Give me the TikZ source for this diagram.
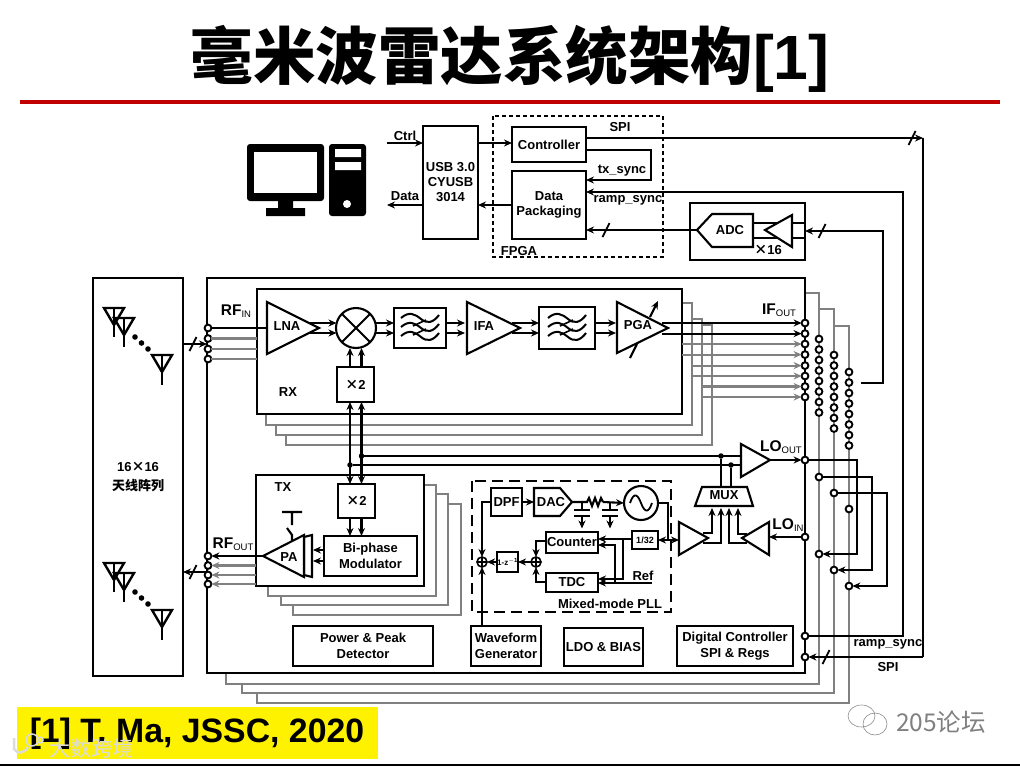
\documentclass[tikz,border=0pt]{standalone}
\usepackage{fontspec}
\setmainfont{Liberation Sans}
\newfontfamily\cjk{Noto Sans CJK SC}
\usetikzlibrary{arrows.meta}
\definecolor{ruleRed}{HTML}{C00000}
\definecolor{shadowGray}{HTML}{808080}
\newcommand{\mybox}[7][]{%
  \pgfmathsetmacro\bxw{#5-#3}\pgfmathsetmacro\bxh{#6-#4}%
  \pgfmathsetmacro\bxcx{(#3+#5)/2}\pgfmathsetmacro\bxcy{(#4+#6)/2}%
  \node[boxn,minimum width=\bxw pt,minimum height=\bxh pt,#1] (#2) at (\bxcx,\bxcy) {#7};}
\newcommand{\mytick}[2]{\pgfmathsetmacro\tax{#1-3.5}\pgfmathsetmacro\tbx{#1+3.5}%
  \pgfmathsetmacro\tay{#2+7}\pgfmathsetmacro\tby{#2-7}\draw[line width=1.8pt] (\tax,\tay)--(\tbx,\tby);}
\newcommand{\subtxt}[2]{#1\raisebox{-2.5pt}{\fontsize{9.5}{9.5}\selectfont\mdseries #2}}
\tikzset{
  x=1pt,y=-1pt,
  every path/.style={line width=2.1pt,line join=miter},
  boxn/.style={draw,fill=white,inner sep=0pt,outer sep=0pt,align=center,
    font=\fontsize{13}{15.5}\selectfont\bfseries},
  txt/.style={inner sep=0pt,outer sep=0pt,align=center,font=\fontsize{13}{15.5}\selectfont\bfseries},
  subl/.style={inner sep=0pt,outer sep=0pt,font=\fontsize{15.5}{17}\selectfont\bfseries},
  arw/.style={-{Stealth[length=8pt,width=7pt]}},
  arwb/.style={{Stealth[length=8pt,width=7pt]}-{Stealth[length=8pt,width=7pt]}},
  gline/.style={draw=shadowGray},
  pin/.style={circle,draw,fill=white,line width=1.9pt,minimum size=6.8pt,inner sep=0pt,outer sep=0pt},
  jn/.style={circle,fill=black,minimum size=5.5pt,inner sep=0pt,outer sep=0pt},
  sumn/.style={circle,draw,fill=white,line width=1.6pt,minimum size=10pt,inner sep=0pt,outer sep=0pt,
    path picture={\draw[line width=1.2pt] (path picture bounding box.north)--(path picture bounding box.south)
      (path picture bounding box.west)--(path picture bounding box.east);}},
  dashA/.style={dash pattern=on 4pt off 3pt},
  dashB/.style={dash pattern=on 11pt off 6pt},
  pics/filterwaves/.style={code={
    \foreach \d in {-9,0,9}{
      \draw[line width=2pt] (-19,\d-1) .. controls (-11,\d-8) and (-5,\d-5) .. (1,\d) .. controls (7,\d+5) and (13,\d+4) .. (19,\d-4);}
    \draw[line width=1.6pt] (-7,-2)--(6,-8) (-7,7)--(6,1);
  }},
  pics/antenna/.style={code={
    \draw[line width=2.4pt] (-10,0)--(10,0)--(0,17)--cycle;
    \draw[line width=2.8pt] (0,0)--(0,#1);
  }},
  pics/antgroup/.style={code={
    \pic at (-24,-47) {antenna=29};
    \pic at (-14,-37) {antenna=29};
    \fill (-3,-18) circle (2.8) (3.5,-12) circle (2.8) (10,-6) circle (2.8);
    \pic at (24,0) {antenna=30};
  }},
}
\begin{document}
\begin{tikzpicture}
\useasboundingbox (0,0) rectangle (1020,766);
% title
\node[inner sep=0pt,font=\fontsize{62.5}{66}\selectfont\bfseries] (title) at (510,59) {{\cjk 毫米波雷达系统架构}[1]};
\draw[ruleRed,line width=4.5pt] (20,102) -- (1000,102);
\draw[line width=1.5pt] (0,765.2) -- (1020,765.2);
% computer icon
\fill[rounded corners=3pt] (247,144) rectangle (324,201);
\fill[white] (254,152) rectangle (317,193);
\fill (278,201) rectangle (293,209) (266,208) rectangle (305,216);
\fill[rounded corners=3pt] (329,144) rectangle (366,216);
\fill[white] (335,149) rectangle (361,157) (335,162) rectangle (361,170);
\fill[white] (347,204) circle (4);
% shadows of the main block
\coordinate (ms1) at (819,293);\coordinate (ms2) at (834,309);\coordinate (ms3) at (849,326);
\draw[gline] (805,293) -- (ms1) -- (819,684) -- (226,684) -- (226,673);
\draw[gline] (819,309) -- (ms2) -- (834,693) -- (242,693) -- (242,684);
\draw[gline] (834,326) -- (ms3) -- (849,703) -- (257,703) -- (257,693);
\mybox{main}{207}{278}{805}{673}{}
% upper chain
\mybox{usb}{423}{126}{478}{239}{USB 3.0\\[-.5pt]CYUSB\\[-.5pt]3014}
\draw[dashA] (493,116) rectangle (663,257);
\mybox{ctrl}{512}{127}{586}{162}{Controller}
\mybox{pack}{512}{171}{586}{239}{Data\\Packaging}
\node[txt] (tctrl) at (405,136) {Ctrl};
\node[txt] (tdata) at (405,196) {Data};
\node[txt] (tspi) at (620,127) {SPI};
\node[txt] (ttx) at (622,171) {tx\_sync};
\node[txt] (tramp) at (628,200) {ramp\_sync};
\node[txt] (tfpga) at (519,251) {FPGA};
\coordinate (ctrlIn) at (387,143);\coordinate (dataOut) at (387,205);
\draw[arw] (ctrlIn) -- (usb.west |- ctrlIn);
\draw[arw] (usb.west |- dataOut) -- (dataOut);
\draw[arw] (usb.east |- ctrlIn) -- (ctrl.west |- ctrlIn);
\draw[arw] (pack.west |- dataOut) -- (usb.east |- dataOut);
\coordinate (txc) at (651,150);
\draw[arw] (ctrl.east |- txc) -- (txc) -- (651,180) -- (pack.east |- 0,180);
% ADC group
\mybox{adcg}{690}{203}{805}{260}{}
\draw (697,230) -- (712,214) -- (753,214) -- (753,247) -- (712,247) -- cycle;
\coordinate (adcTip) at (697,230);
\node[txt] (tadc) at (730,230) {ADC};
\draw (753,223) -- (780,223) (753,238) -- (780,238);
\draw[fill=white] (765,230) -- (792,215) -- (792,247) -- cycle;
\draw (792,223) -- (805,223) (792,238) -- (805,238);
\node[txt] (tx16) at (768,250) {{\cjk ×}16};
\draw[arw] (adcTip) -- (pack.east |- adcTip);
\mytick{606}{230}
% RX shadows
\coordinate (rs1) at (692,303);\coordinate (rs2) at (702,319);\coordinate (rs3) at (712,325);
\draw[gline] (682,303) -- (rs1) -- (692,425) -- (266,425) -- (266,414);
\draw[gline] (692,319) -- (rs2) -- (702,435) -- (276,435) -- (276,425);
\draw[gline] (702,325) -- (rs3) -- (712,445) -- (286,445) -- (286,435);
\mybox{rx}{257}{289}{682}{414}{}
\node[txt] (trx) at (288,392) {RX};
% TX shadows
\draw[gline] (424,485) -- (436,485) -- (436,596) -- (268,596) -- (268,586);
\draw[gline] (436,494) -- (448,494) -- (448,605) -- (281,605) -- (281,596);
\draw[gline] (448,504) -- (461,504) -- (461,615) -- (293,615) -- (293,605);
\mybox{tx}{256}{475}{424}{586}{}
\node[txt] (ttxl) at (283,487) {TX};
% pins
\foreach \i/\y in {1/323,2/333.6,3/344,4/354.6,5/365.6,6/376,7/386.5,8/397}
  {\node[pin] (if\i) at (805,\y) {};}
\foreach \i/\y in {1/328,2/338.5,3/349,4/359}
  {\node[pin] (rfi\i) at (208,\y) {};}
\foreach \i/\y in {1/556,2/565.5,3/575,4/584}
  {\node[pin] (rfo\i) at (208,\y) {};}
\foreach \i in {0,...,7}{
  \pgfmathsetmacro\ya{339+10.5*\i}\pgfmathsetmacro\yb{355+10.5*\i}\pgfmathsetmacro\yc{372+10.5*\i}
  \node[pin] (ca\i) at (819,\ya) {};
  \node[pin] (cb\i) at (834,\yb) {};
  \node[pin] (cc\i) at (849,\yc) {};}
\node[pin] (lo2a) at (819,477) {};
\node[pin] (lo3a) at (834,493) {};
\node[pin] (lo4a) at (849,509) {};
\node[pin] (lo1b) at (819,554) {};
\node[pin] (lo2b) at (834,570) {};
\node[pin] (lo3b) at (849,586) {};
\node[pin] (loOut) at (805,460) {};
\node[pin] (loIn) at (805,537) {};
\node[pin] (pinRamp) at (805,636) {};
\node[pin] (pinSpi) at (805,657) {};
% IF outputs
\coordinate (pgaA) at (662,323);\coordinate (pgaB) at (662,333.6);
\draw[arw] (pgaA) -- (if1);
\draw[arw] (pgaB) -- (if2);
\draw[gline,arw] (rx.east |- if3) -- (if3);
\draw[gline,arw] (rx.east |- if4) -- (if4);
\draw[gline,arw] (rs1 |- if5) -- (if5);
\draw[gline,arw] (rs1 |- if6) -- (if6);
\draw[gline,arw] (rs2 |- if7) -- (if7);
\draw[gline,arw] (rs2 |- if8) -- (if8);
% SPI, ramp, ADC bus
\coordinate (spiC) at (923,138);
\draw[arw] (ctrl.east |- spiC) -- (spiC);
\mytick{912}{138}
\draw (spiC) -- (spiC |- pinSpi);
\draw[arw] (spiC |- pinSpi) -- (pinSpi);
\mytick{826}{657}
\coordinate (rampC) at (903,192);
\draw[arw] (pinRamp) -- (rampC |- pinRamp) -- (rampC) -- (pack.east |- rampC);
\node[txt] (tramp2) at (888,644) {ramp\_sync};
\node[txt] (tspi2) at (888,667) {SPI};
\coordinate (ifBus) at (861,383);
\draw[arw,line width=2.8pt] (ifBus) -- (883,383) -- (883,231) -- (adcg.east |- 0,231);
\mytick{822}{231}
% RF input
\node[subl] (trfin) at (236,311) {\subtxt{RF}{IN}};
\node[subl] (trfout) at (233,544) {\subtxt{RF}{OUT}};
\node[subl] (tifout) at (779,310) {\subtxt{IF}{OUT}};
\node[subl] (tloout) at (781,447) {\subtxt{LO}{OUT}};
\node[subl] (tloin) at (788,525) {\subtxt{LO}{IN}};
\draw (rfi1) -- (rx.west |- rfi1);
\draw[gline] (rfi2) -- (rx.west |- rfi2);
\draw[gline] (rfi3) -- (rx.west |- rfi3);
\draw[gline] (rfi4) -- (rx.west |- rfi4);
% antenna panel
\mybox{ant}{93}{278}{183}{676}{}
\node[txt] (tant) at (138,477) {16{\cjk ×}16\\[3pt]{\cjk 天线阵列}};
\pic at (138,355) {antgroup};
\pic at (138,610) {antgroup};
\coordinate (rfiJoin) at (207,344);
\draw[arw] (ant.east |- rfiJoin) -- (rfiJoin);
\mytick{193}{344}
\coordinate (rfoJoin) at (207,572);
\draw[arw] (rfoJoin) -- (ant.east |- rfoJoin);
\mytick{193}{572}
% RX chain
\draw[fill=white] (267,302) -- (319,328) -- (267,354) -- cycle;
\draw (rfi1) -- (267,328);
\node[txt] (tlna) at (287,326) {LNA};
\node[circle,draw,fill=white,minimum size=40pt,inner sep=0pt,outer sep=0pt] (mix) at (356,328) {};
\draw (mix.north west) -- (mix.south east) (mix.north east) -- (mix.south west);
\mybox{f1}{394}{308}{446}{348}{}
\pic at (420,328) {filterwaves};
\draw[fill=white] (467,302) -- (520,328) -- (467,354) -- cycle;
\node[txt] (tifa) at (484,326) {IFA};
\mybox{f2}{539}{307}{595}{349}{}
\pic at (567,328) {filterwaves};
\draw[fill=white] (617,302) -- (668,328) -- (617,353) -- cycle;
\node[txt] (tpga) at (638,325) {PGA};
\draw (630,358) -- (637,344);
\draw[arw] (650,317) -- (658,301);
\foreach \yy in {323,333}{
  \draw[arw] (310,\yy) -- (336.5,\yy);
  \draw[arw] (375.5,\yy) -- (f1.west |- 0,\yy);
  \draw[arw] (f1.east |- 0,\yy) -- (465,\yy);
  \draw[arw] (512,\yy) -- (f2.west |- 0,\yy);
  \draw[arw] (f2.east |- 0,\yy) -- (616,\yy);
}
\mybox{mul1}{337}{367}{374}{402}{{\cjk ×}2}
\mybox{mul2}{338}{484}{375}{518}{{\cjk ×}2}
\coordinate (bl) at (350,465);\coordinate (br) at (361.5,456);
\draw[arw] (bl |- mul1.north) -- (bl |- 0,348);
\draw[arw] (br |- mul1.north) -- (br |- 0,348);
\draw[arwb] (bl |- mul1.south) -- (bl |- mul2.north);
\draw[arwb] (br |- mul1.south) -- (br |- mul2.north);
% LO buffers
\draw[fill=white] (741,444) -- (770,460) -- (741,477) -- cycle;
\node[jn] (j1) at (bl) {};
\node[jn] (j2) at (br) {};
\node[jn] (j3) at (721,456) {};
\node[jn] (j4) at (731,465) {};
\draw (j2) -- (741,456);
\draw (j1) -- (741,465);
\draw[arw] (770,460) -- (loOut);
\draw[fill=white] (702,487) -- (747,487) -- (753,506) -- (695,506) -- cycle;
\node[txt] (tmux) at (724,495) {MUX};
\draw (j3) -- (j3 |- 0,487);
\draw (j4) -- (j4 |- 0,487);
\draw[fill=white] (679,522) -- (708,538) -- (679,555) -- cycle;
\draw[fill=white] (742,538) -- (769,522) -- (769,555) -- cycle;
\draw[arw] (703,533) -- (712,533) -- (712,508);
\draw[arw] (703,543) -- (721,543) -- (721,508);
\draw[arw] (747,534) -- (738,534) -- (738,508);
\draw[arw] (747,543) -- (729,543) -- (729,508);
\draw[arw] (loIn) -- (769,537);
% LO daisy chain
\draw[arw] (loOut) -- (857,460) -- (857,554) -- (lo1b);
\draw[arw] (lo2a) -- (872,477) -- (872,570) -- (lo2b);
\draw[arw] (lo3a) -- (887,493) -- (887,586) -- (lo3b);
% TX chain
\mybox{bi}{324}{536}{417}{576}{Bi-phase\\Modulator}
\draw[arw] (bl |- mul2.south) -- (bl |- bi.north);
\draw[arw] (br |- mul2.south) -- (br |- bi.north);
\draw[fill=white] (304,537) -- (312,535) -- (312,577) -- (304,575) -- cycle;
\draw[fill=white] (263,556) -- (304,535) -- (304,577) -- cycle;
\node[txt] (tpa) at (289,557) {PA};
\draw[arw] (bi.west |- 0,550) -- (313,550);
\draw[arw] (bi.west |- 0,561) -- (313,561);
\draw (282,512) -- (302,512) (292,512) -- (292,525) (287,528) -- (292,535) -- (292,540);
\coordinate (paTip) at (263,556);
\draw[arw] (paTip) -- (rfo1);
\draw[gline,arw] (tx.west |- rfo2) -- (rfo2);
\draw[gline,arw] (tx.west |- rfo3) -- (rfo3);
\draw[gline,arw] (tx.west |- rfo4) -- (rfo4);
% PLL
\draw[dashB] (472,481) rectangle (671,612);
\node[txt,font=\fontsize{13}{15}\selectfont\bfseries] (tpll) at (610,604) {Mixed-mode PLL};
\mybox{dpf}{491}{488}{522}{516}{DPF}
\draw[fill=white] (534,488) -- (560,488) -- (572,502) -- (560,516) -- (534,516) -- cycle;
\node[txt] (tdac) at (551,502) {DAC};
\coordinate (dacIn) at (534,502);\coordinate (dacTip) at (572,502);
\draw[arw] (dpf.east |- dacIn) -- (dacIn);
\node[circle,draw,fill=white,minimum size=34pt,inner sep=0pt,outer sep=0pt] (vco) at (641,503) {};
\draw[line width=1.8pt] (630,503) .. controls (634,491) and (638,495) .. (641,503) .. controls (644,511) and (648,515) .. (652,503);
\draw (dacTip) -- (587,502) -- (589,498) -- (592,506) -- (595,498) -- (598,506) -- (601,498) -- (603,502);
\draw[arw] (603,502) -- (vco.west);
\foreach \cx in {582,610}{
  \draw (\cx,502) -- (\cx,510);
  \draw[line width=2.2pt] (\cx-8,510) -- (\cx+8,510) (\cx-8,516) -- (\cx+8,516);
  \draw[arw,line width=2.4pt] (\cx,516) -- (\cx,528.5);
}
\mybox[font=\fontsize{9}{10}\selectfont\bfseries]{div}{632}{531}{658}{549}{1/32}
\mybox{cnt}{546}{532}{598}{553}{Counter}
\mybox{tdc}{546}{573}{598}{592}{TDC}
\mybox[font=\fontsize{8}{9}\selectfont\bfseries]{zbox}{497}{552}{518}{572}{1-z$^{\mathbf{-1}}$}
\node[sumn] (s1) at (536,562) {};
\node[sumn] (s2) at (482,562) {};
\node[txt] (tref) at (643,576) {Ref};
\coordinate (feed) at (668,540);
\draw (vco.east) -- (668,503) -- (feed);
\draw[arwb] (div.east |- feed) -- (679,540);
\draw[arw] (div.west |- 0,539) -- (cnt.east |- 0,539);
\coordinate (v1) at (623,539);\coordinate (v2) at (615,583);\coordinate (refEnd) at (652,583);
\draw[arw] (v1) -- (623,579) -- (tdc.east |- 0,579);
\draw[arw] (refEnd) -- (tdc.east |- refEnd);
\draw[arw] (v2) -- (615,545) -- (cnt.east |- 0,545);
\draw[arw,line width=1.6pt] (cnt.west |- 0,541) -- (s1 |- 0,541) -- (s1.north);
\draw[arw,line width=1.6pt] (tdc.west |- 0,582) -- (s1 |- 0,582) -- (s1.south);
\draw[arw,line width=1.6pt] (s1.west) -- (zbox.east);
\draw[arw,line width=1.6pt] (zbox.west) -- (s2.east);
\draw[arw,line width=1.6pt] (dpf.west |- 0,502) -- (s2 |- 0,502) -- (s2.north);
% bottom boxes
\mybox{pwr}{293}{626}{433}{666}{Power \& Peak\\Detector}
\mybox{wav}{471}{626}{541}{666}{Waveform\\Generator}
\mybox{ldo}{564}{628}{643}{666}{LDO \& BIAS}
\mybox{dig}{677}{626}{793}{666}{Digital Controller\\SPI \& Regs}
\draw[arw] (s2 |- wav.north) -- (s2.south);
% citation
\fill[yellow] (17,707) rectangle (378,759);
\node[inner sep=0pt,font=\fontsize{33.8}{36}\selectfont\bfseries] (cite) at (197,734) {[1] T. Ma, JSSC, 2020};
% watermarks
\node[inner sep=0pt,text=black!14,font=\fontsize{21}{23}\selectfont\cjk] (wm1) at (91,748) {大数跨境};
\draw[black!14,line width=2.5pt] (14,738) -- (14,749) .. controls (17,754) and (24,754) .. (28,747);
\draw[black!14,line width=1.5pt] (32,740) circle (6) (40,740) circle (3);
\draw[black!45,line width=.6pt] (861.5,716) ellipse (13.5 and 11) (875,724) ellipse (12 and 11);
\node[inner sep=0pt,text=black!50,font=\fontsize{24.5}{26}\selectfont\cjk] (wm2) at (941,722) {205论坛};
\end{tikzpicture}
\end{document}
